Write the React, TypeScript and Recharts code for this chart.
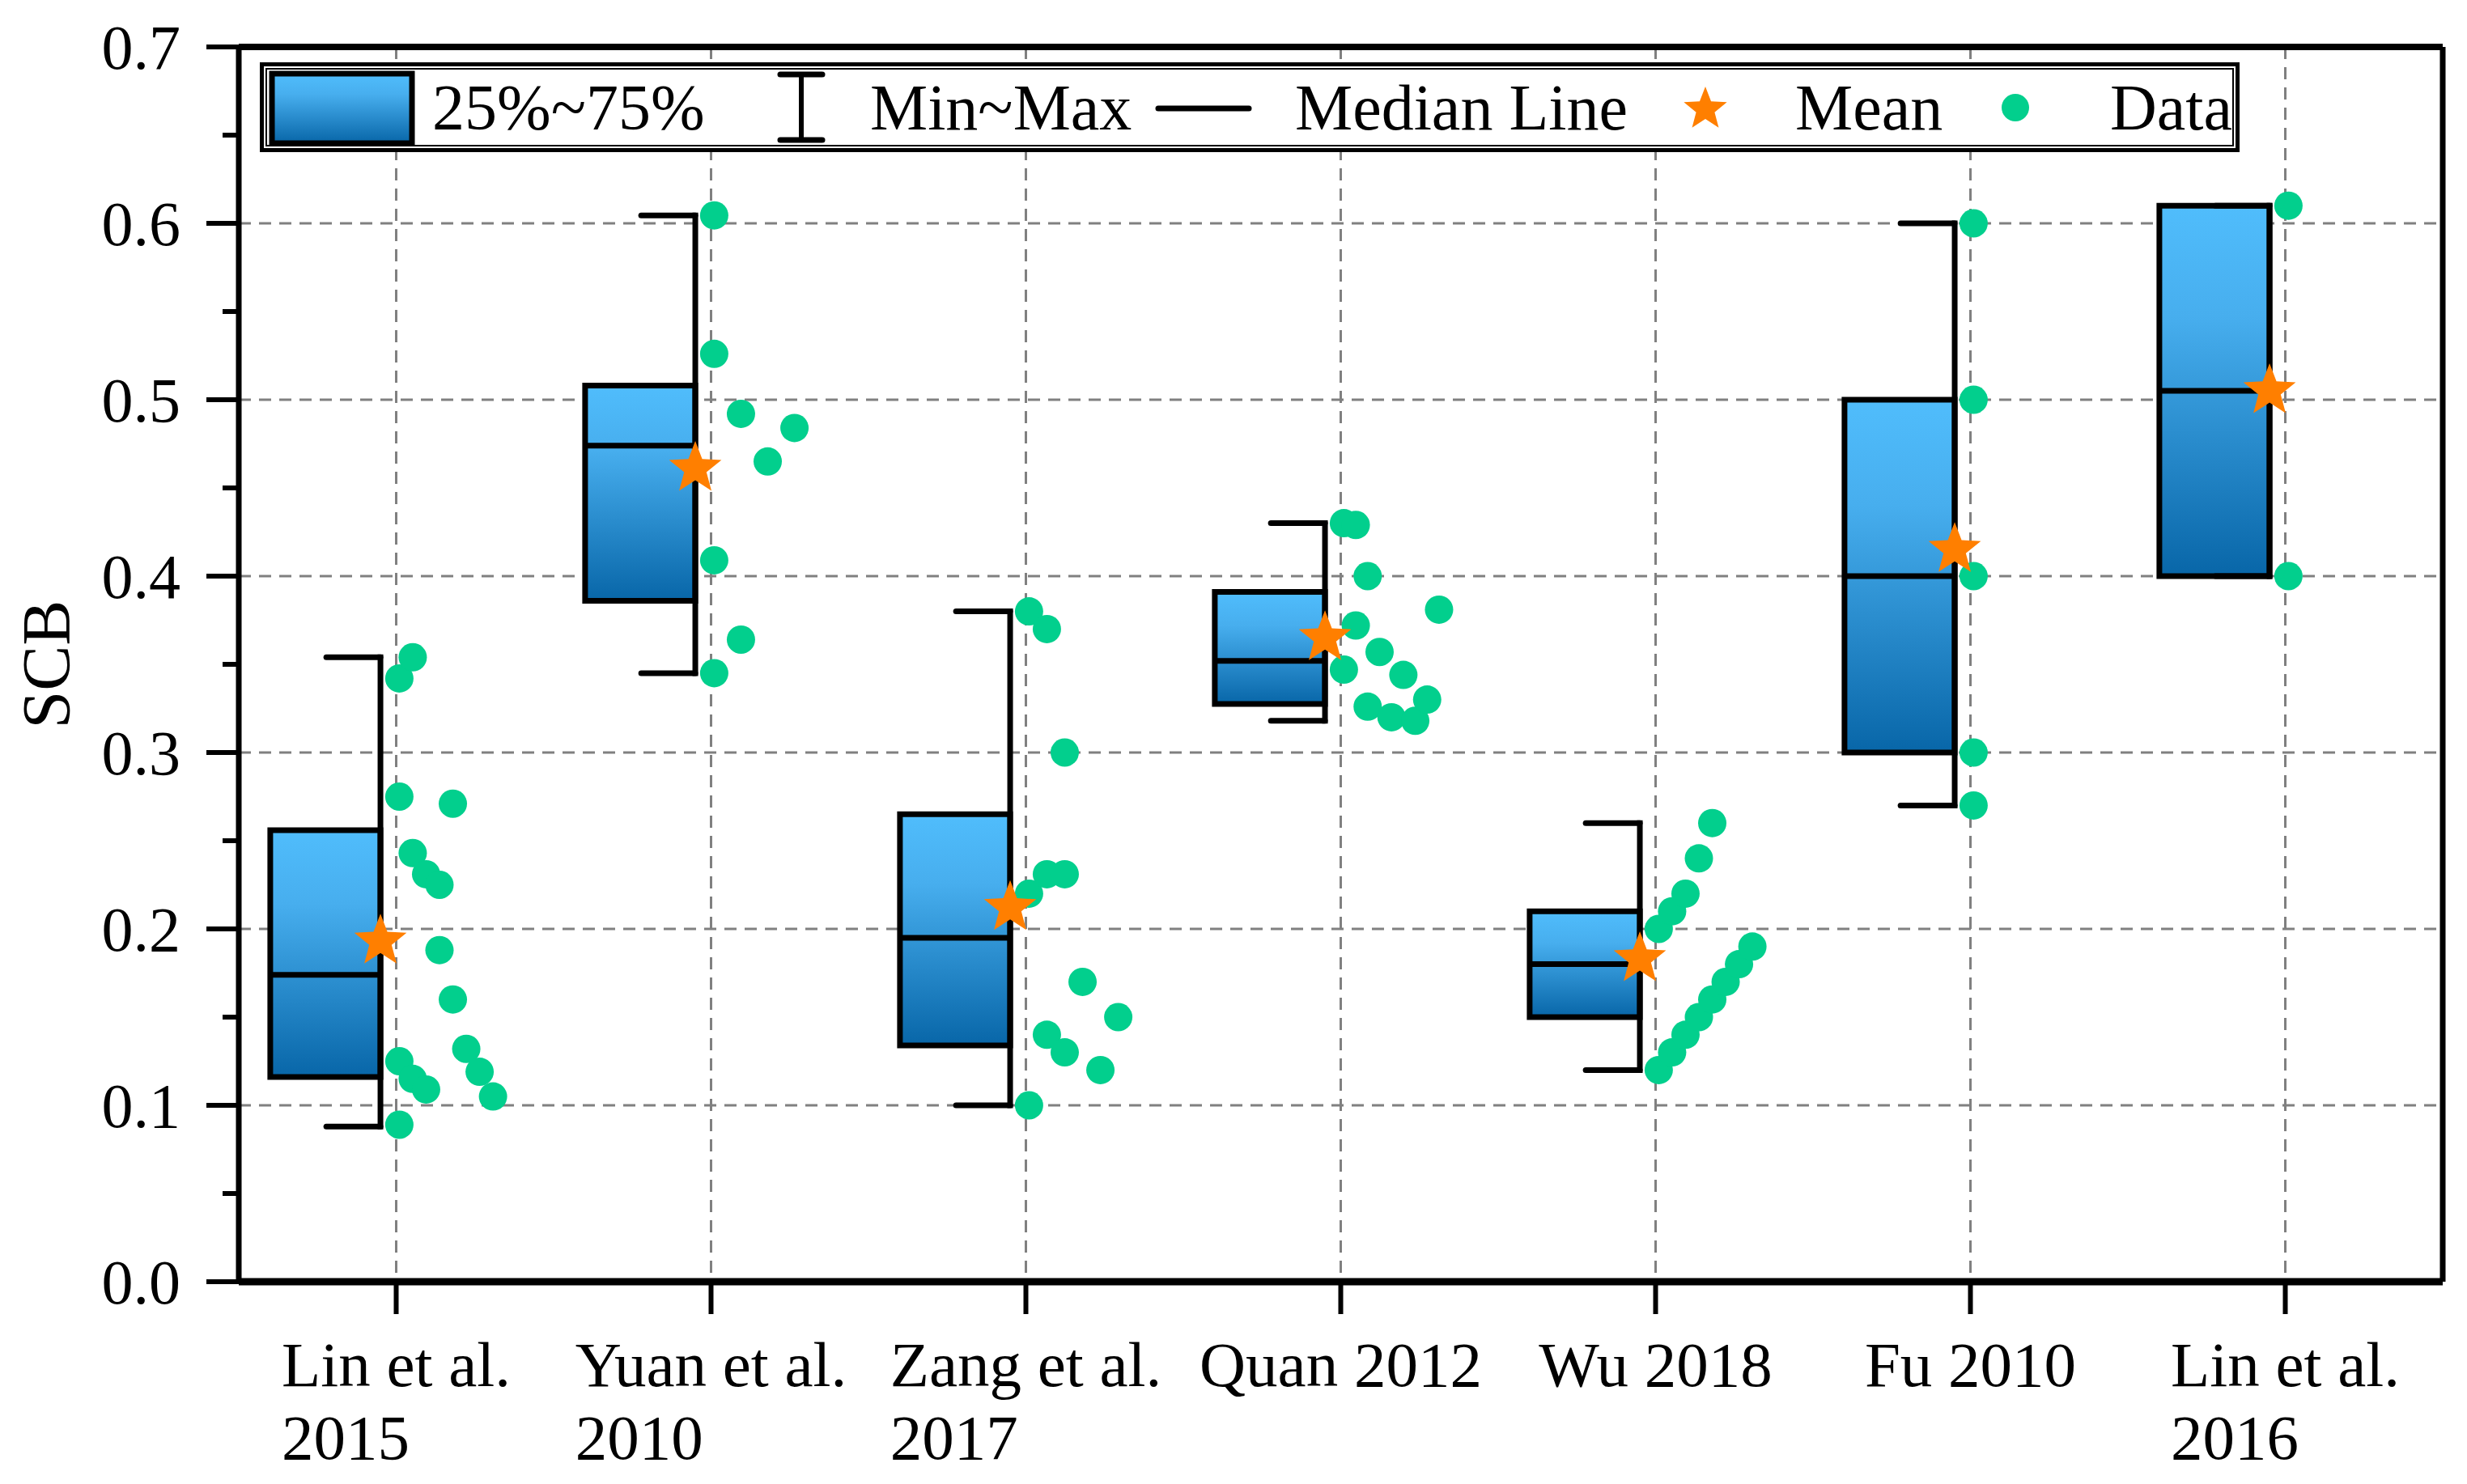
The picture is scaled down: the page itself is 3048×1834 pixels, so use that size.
import React from 'react'
import { ComposedChart, Scatter, XAxis, YAxis, CartesianGrid, ReferenceArea, ReferenceLine } from 'recharts'

const CATEGORIES = ['Lin et al.\n2015', 'Yuan et al.\n2010', 'Zang et al.\n2017', 'Quan 2012', 'Wu 2018', 'Fu 2010', 'Lin et al.\n2016']

// box statistics
const MINS = [0.088, 0.345, 0.1, 0.318, 0.12, 0.27, 0.4]
const Q1S = [0.116, 0.386, 0.134, 0.3275, 0.15, 0.3, 0.4]
const MEDIANS = [0.174, 0.474, 0.195, 0.352, 0.18, 0.4, 0.505]
const Q3S = [0.256, 0.508, 0.265, 0.391, 0.21, 0.5, 0.61]
const MAXS = [0.354, 0.6045, 0.38, 0.43, 0.26, 0.6, 0.61]
const MEANS = [0.193, 0.461, 0.212, 0.365, 0.183, 0.415, 0.505]

// raw points, in data order (order decides the offset inside each bin)
const LIN_2015 = [0.089, 0.342, 0.354, 0.275, 0.243, 0.231, 0.225, 0.271, 0.125, 0.115, 0.109, 0.188, 0.16, 0.132, 0.119, 0.105]
const YUAN_2010 = [0.6045, 0.526, 0.409, 0.492, 0.465, 0.484, 0.345, 0.364]
const ZANG_2017 = [0.38, 0.37, 0.3, 0.22, 0.231, 0.231, 0.1, 0.14, 0.13, 0.17, 0.12, 0.15]
const QUAN_2012 = [0.43, 0.429, 0.4, 0.347, 0.372, 0.326, 0.357, 0.32, 0.344, 0.318, 0.33, 0.381]
const WU_2018 = [0.2, 0.21, 0.22, 0.24, 0.26, 0.12, 0.13, 0.14, 0.15, 0.16, 0.17, 0.18, 0.19]
const FU_2010 = [0.6, 0.5, 0.4, 0.3, 0.27]
const LIN_2016 = [0.61, 0.4]
const RAW = [LIN_2015, YUAN_2010, ZANG_2017, QUAN_2012, WU_2018, FU_2010, LIN_2016]

const X_TICKS = [1, 2, 3, 4, 5, 6, 7]
const Y_TICKS = [0, 0.05, 0.1, 0.15, 0.2, 0.25, 0.3, 0.35, 0.4, 0.45, 0.5, 0.55, 0.6, 0.65, 0.7]
const Y_GRID = [0.1, 0.2, 0.3, 0.4, 0.5, 0.6]

const FONT = "'Times New Roman', 'Liberation Serif', serif"
const GREEN = '#02CF8D'
const ORANGE = '#FF7F00'
const LW = 7

// layout in x-axis units, relative to the category position
const BOX_L = -0.4
const BOX_R = -0.05
const CAP_L = -0.222
const DOT_START = 0.01
const DOT_SPREAD = 0.34
const BIN = 0.1

const dots = RAW.flatMap((vals, i) => {
  const counts: Record<number, number> = {}
  const cols = vals.map((v) => {
    const b = Math.floor(v / BIN + 1e-9)
    const k = counts[b] ?? 0
    counts[b] = k + 1
    return k
  })
  const maxCount = Math.max(...Object.values(counts))
  return vals.map((v, j) => ({ x: i + 1 + DOT_START + (cols[j] * DOT_SPREAD) / maxCount, y: v }))
})

const means = MEANS.map((m, i) => ({ x: i + 1 + BOX_R, y: m }))

function starPath(cx: number, cy: number, R: number, r: number) {
  let d = ''
  for (let k = 0; k < 10; k++) {
    const a = -Math.PI / 2 + (k * Math.PI) / 5
    const rad = k % 2 === 0 ? R : r
    d += `${k === 0 ? 'M' : 'L'}${cx + rad * Math.cos(a)},${cy + rad * Math.sin(a)}`
  }
  return d + 'Z'
}

let ctx: CanvasRenderingContext2D | null = null
function textWidth(t: string, font: string) {
  if (!ctx) ctx = document.createElement('canvas').getContext('2d')
  if (!ctx) return t.length * 35
  ctx.font = font
  return ctx.measureText(t).width
}

function XTick({ x, y, payload }: any) {
  const label = CATEGORIES[Math.round(payload.value) - 1] ?? ''
  const lines = label.split('\n')
  const multi = lines.length > 1
  const left = x - textWidth(lines[0], `79px ${FONT}`) / 2
  return (
    <g>
      {lines.map((ln, i) => (
        <text key={i} x={multi ? left : x} y={y + 89 + i * 90} textAnchor={multi ? 'start' : 'middle'}
          fontFamily={FONT} fontSize={79} fill="#000">{ln}</text>
      ))}
    </g>
  )
}

function YTick({ x, y, payload }: any) {
  const v = payload.value
  const major = Math.round(v * 100) % 10 === 0
  return (
    <g>
      <line x1={x - (major ? 40 : 20)} x2={x} y1={y} y2={y} stroke="#000" strokeWidth={6} />
      {major && (
        <text x={x - 72} y={y} dy="0.34em" textAnchor="end" fontFamily={FONT} fontSize={78} fill="#000">
          {v.toFixed(1)}
        </text>
      )}
    </g>
  )
}

function YLabel({ viewBox }: any) {
  const cx = 86
  const cy = viewBox.y + viewBox.height / 2
  return (
    <text x={cx} y={cy} transform={`rotate(-90 ${cx} ${cy})`} textAnchor="middle" fontFamily={FONT} fontSize={84} fill="#000">
      SCB
    </text>
  )
}

function Legend() {
  const t = { fontFamily: FONT, fontSize: 80, fill: '#000' }
  return (
    <svg width={2446} height={111} style={{ position: 'absolute', left: 321, top: 77 }}>
      <defs>
        <linearGradient id="legGrad" x1="0" y1="0" x2="0" y2="1">
          <stop offset="0%" stopColor="#50BDFC" />
          <stop offset="30%" stopColor="#47AEEE" />
          <stop offset="100%" stopColor="#0866A8" />
        </linearGradient>
      </defs>
      <rect x={2.5} y={2.5} width={2441} height={106} fill="#fff" stroke="#000" strokeWidth={5} />
      <rect x={8} y={8} width={2430} height={95} fill="none" stroke="#000" strokeWidth={2} />
      <rect x={15} y={14} width={173} height={86} fill="url(#legGrad)" stroke="#000" strokeWidth={LW} />
      <text x={213} y={83} {...t}>25%~75%</text>
      <line x1={669} x2={669} y1={15} y2={96} stroke="#000" strokeWidth={6} />
      <line x1={643} x2={695} y1={15} y2={15} stroke="#000" strokeWidth={LW} strokeLinecap="round" />
      <line x1={643} x2={695} y1={96} y2={96} stroke="#000" strokeWidth={LW} strokeLinecap="round" />
      <text x={754} y={83} {...t}>Min~Max</text>
      <line x1={1110} x2={1222} y1={57} y2={57} stroke="#000" strokeWidth={LW} strokeLinecap="round" />
      <text x={1279} y={83} {...t}>Median Line</text>
      <path d={starPath(1786, 58, 28, 12)} fill={ORANGE} />
      <text x={1897} y={83} {...t}>Mean</text>
      <circle cx={2169} cy={56} r={17} fill={GREEN} />
      <text x={2286} y={83} {...t}>Data</text>
    </svg>
  )
}

export default function App() {
  return (
    <div style={{ position: 'relative', width: 3048, height: 1834, background: '#fff' }}>
      <style>{'body{margin:0}'}</style>
      <ComposedChart width={3048} height={1834} margin={{ top: 58, right: 30, bottom: 0, left: 0 }}>
        <defs>
          <linearGradient id="boxGrad" x1="0" y1="0" x2="0" y2="1">
            <stop offset="0%" stopColor="#50BDFC" />
            <stop offset="30%" stopColor="#47AEEE" />
            <stop offset="100%" stopColor="#0866A8" />
          </linearGradient>
        </defs>
        <CartesianGrid stroke="#808080" strokeWidth={3} strokeDasharray="15 10"
          horizontalValues={Y_GRID} verticalValues={X_TICKS} />
        <XAxis dataKey="x" type="number" domain={[0.5, 7.5]} ticks={X_TICKS} interval={0} height={250}
          axisLine={{ stroke: '#000', strokeWidth: 9 }} tickLine={{ stroke: '#000', strokeWidth: 6 }}
          tickSize={40} tickMargin={0} tick={<XTick />} />
        <YAxis dataKey="y" type="number" domain={[0, 0.7]} ticks={Y_TICKS} interval={0} width={295}
          axisLine={{ stroke: '#000', strokeWidth: 7 }} tickLine={false} tickSize={0} tickMargin={0}
          tick={<YTick />} label={<YLabel />} />
        <ReferenceLine y={0.7} stroke="#000" strokeWidth={8} ifOverflow="visible" />
        <ReferenceLine x={7.5} stroke="#000" strokeWidth={7} ifOverflow="visible" />
        {CATEGORIES.map((_, i) => (
          <ReferenceArea key={`box-${i}`} x1={i + 1 + BOX_L} x2={i + 1 + BOX_R} y1={Q1S[i]} y2={Q3S[i]}
            fill="url(#boxGrad)" fillOpacity={1} stroke="#000" strokeWidth={LW} ifOverflow="visible" />
        ))}
        {CATEGORIES.map((_, i) => (
          <ReferenceLine key={`med-${i}`} segment={[{ x: i + 1 + BOX_L, y: MEDIANS[i] }, { x: i + 1 + BOX_R, y: MEDIANS[i] }]}
            stroke="#000" strokeWidth={LW} ifOverflow="visible" />
        ))}
        {CATEGORIES.map((_, i) => (
          <ReferenceLine key={`wh-${i}`} segment={[{ x: i + 1 + BOX_R, y: MINS[i] }, { x: i + 1 + BOX_R, y: MAXS[i] }]}
            stroke="#000" strokeWidth={LW} strokeLinecap="square" ifOverflow="visible" />
        ))}
        {CATEGORIES.map((_, i) => (
          <ReferenceLine key={`capt-${i}`} segment={[{ x: i + 1 + CAP_L, y: MAXS[i] }, { x: i + 1 + BOX_R, y: MAXS[i] }]}
            stroke="#000" strokeWidth={LW} strokeLinecap="round" ifOverflow="visible" />
        ))}
        {CATEGORIES.map((_, i) => (
          <ReferenceLine key={`capb-${i}`} segment={[{ x: i + 1 + CAP_L, y: MINS[i] }, { x: i + 1 + BOX_R, y: MINS[i] }]}
            stroke="#000" strokeWidth={LW} strokeLinecap="round" ifOverflow="visible" />
        ))}
        <Scatter data={dots} isAnimationActive={false}
          shape={(p: any) => <circle cx={p.cx} cy={p.cy} r={17.5} fill={GREEN} />} />
        <Scatter data={means} isAnimationActive={false}
          shape={(p: any) => <path d={starPath(p.cx, p.cy, 34, 14.5)} fill={ORANGE} />} />
      </ComposedChart>
      <Legend />
    </div>
  )
}
